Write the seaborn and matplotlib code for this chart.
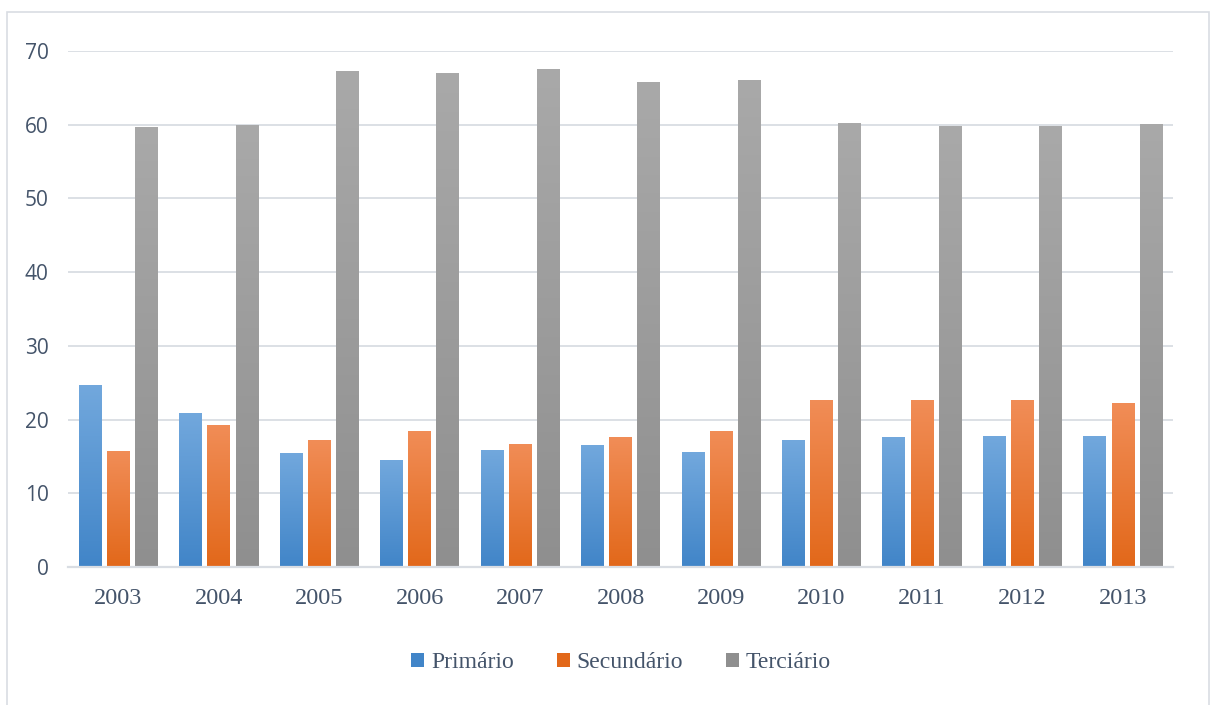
import matplotlib.pyplot as plt
import matplotlib.colors as mcolors
from matplotlib.patches import Patch, Rectangle
import seaborn as sns
import pandas as pd
import numpy as np

sns.set_style("white")

anos = ['2003', '2004', '2005', '2006', '2007', '2008', '2009', '2010', '2011', '2012', '2013']
primario = [24.7, 20.9, 15.5, 14.5, 15.9, 16.6, 15.6, 17.2, 17.6, 17.8, 17.8]
secundario = [15.7, 19.3, 17.2, 18.5, 16.7, 17.6, 18.5, 22.7, 22.7, 22.6, 22.2]
terciario = [59.7, 60.0, 67.3, 67.0, 67.6, 65.8, 66.1, 60.2, 59.8, 59.8, 60.1]
setores = ['Primário', 'Secundário', 'Terciário']

df = pd.DataFrame({'Ano': anos, 'Primário': primario,
                   'Secundário': secundario, 'Terciário': terciario})
df = df.melt(id_vars='Ano', var_name='Setor', value_name='Valor')

# (top colour, bottom colour) for the gradient fill, like the Excel look
grads = {
    'Primário': ('#72a8dd', '#4185c8'),
    'Secundário': ('#f18d57', '#e2681a'),
    'Terciário': ('#a9a9a9', '#8f8f8f'),
}
base = {k: v[1] for k, v in grads.items()}
text_col = '#44546a'
serif = ['Liberation Serif', 'DejaVu Serif']

fig = plt.figure(figsize=(12.18, 7.05), dpi=100)
ax = fig.add_axes([68 / 1218, 1 - 567 / 705, (1173 - 68) / 1218, (567 - 51) / 705])

sns.barplot(data=df, x='Ano', y='Valor', hue='Setor', palette=base,
            width=0.84, gap=0.2, ax=ax, legend=False)

# gradient fill clipped to each bar
for cont, setor in zip(ax.containers, setores):
    cmap = mcolors.LinearSegmentedColormap.from_list(setor, [grads[setor][1], grads[setor][0]])
    for p in cont:
        x0, y0 = p.get_x(), p.get_y()
        w, h = p.get_width(), p.get_height()
        grad = np.linspace(0, 1, 256).reshape(-1, 1)
        im = ax.imshow(grad, cmap=cmap, aspect='auto', origin='lower',
                       extent=(x0, x0 + w, y0, y0 + h), zorder=p.get_zorder())
        im.set_clip_path(p)
        p.set_facecolor('none')
        p.set_edgecolor('none')

ax.set_xlim(-0.5, len(anos) - 0.5)
ax.set_ylim(0, 70)
ax.set_yticks(range(0, 71, 10))
ax.grid(axis='y', color='#d9dde3', linewidth=1.3)
ax.set_axisbelow(True)
for s in ['top', 'right', 'left']:
    ax.spines[s].set_visible(False)
ax.spines['bottom'].set_color('#d9dde3')
ax.spines['bottom'].set_linewidth(1.6)
ax.tick_params(axis='both', length=0)
ax.tick_params(axis='y', pad=14)
ax.tick_params(axis='x', pad=15)
ax.set_xlabel('')
ax.set_ylabel('')

for lab in ax.get_yticklabels():
    lab.set_fontfamily('Open Sans')
    lab.set_fontsize(15)
    lab.set_color(text_col)
for lab in ax.get_xticklabels():
    lab.set_fontfamily(serif)
    lab.set_fontsize(17.5)
    lab.set_color(text_col)

handles = [Patch(facecolor=grads[s][1], edgecolor='none', label=s) for s in setores]
leg = fig.legend(handles=handles, loc='center', bbox_to_anchor=(621 / 1218, 1 - 663 / 705),
                 ncol=3, frameon=False, handlelength=0.55, handleheight=0.55,
                 handletextpad=0.3, columnspacing=1.8,
                 prop={'family': serif, 'size': 17})
for t in leg.get_texts():
    t.set_color(text_col)

# light chart-area border
fig.patches.append(Rectangle((7 / 1218, -0.01), 1202 / 1218, 1 - 12 / 705 + 0.01,
                             transform=fig.transFigure, fill=False,
                             edgecolor='#d9dde3', linewidth=1.2))

fig.savefig('out.png', dpi=100)
